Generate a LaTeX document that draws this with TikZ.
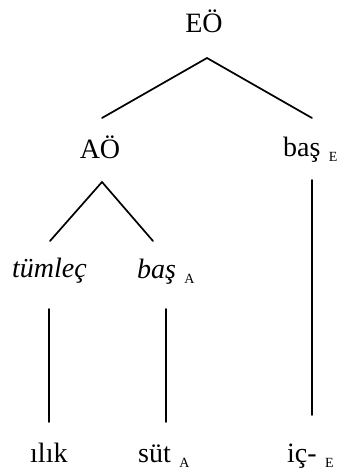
\documentclass[tikz,border=0pt]{standalone}
\usepackage{fontspec}
\setmainfont{Liberation Serif}
\usepackage{tikz}
\usetikzlibrary{calc}

\newcommand{\lowsub}[1]{\hspace{0.3em}\raisebox{-5bp}{\fontsize{14bp}{14bp}\selectfont #1}}

\begin{document}
\begin{tikzpicture}[x=1bp,y=-1bp,
    word/.style={inner sep=0pt,anchor=base west,font=\fontsize{28bp}{32bp}\selectfont},
    branch/.style={line width=1.7bp,line cap=round}]
          \useasboundingbox (0,0) rectangle (339,472);
          % labels
          \node[word,anchor=base] (EO) at (204,33) {EÖ};
          \node[word,anchor=base] (AO) at (100,159) {AÖ};
          \node[word] (basE) at (283,157) {baş\lowsub{E}};
          \node[word] (tumlec) at (12,277) {\itshape tümleç};
          \node[word] (basA) at (137,278) {\itshape baş\/\lowsub{\upshape A}};
          \node[word] (ilik) at (30,462) {ılık};
          \node[word] (sut) at (138,462) {süt\lowsub{A}};
          \node[word] (ic) at (287,462) {iç-\lowsub{E}};
          % line ends
          \coordinate (EOfoot) at (207,58);
          \coordinate (AOhead) at (102,118);
          \coordinate (basEhead) at (312,118);
          \coordinate (AOfoot) at (102,182);
          \coordinate (tumlechead) at (50,241);
          \coordinate (basAhead) at (153,241);
          \coordinate (basEfoot) at (312,180);
          \coordinate (ichead) at (312,415);
          \coordinate (tumlecfoot) at (49,309);
          \coordinate (ilikhead) at (49,422);
          \coordinate (basAfoot) at (166,309);
          \coordinate (suthead) at (166,422);
          % branches
          \draw[branch] (AOhead) -- (EOfoot) -- (basEhead);
          \draw[branch] (tumlechead) -- (AOfoot) -- (basAhead);
          \draw[branch] (basEfoot) -- (ichead);
          \draw[branch] (tumlecfoot) -- (ilikhead);
          \draw[branch] (basAfoot) -- (suthead);
        \end{tikzpicture}
\end{document}
